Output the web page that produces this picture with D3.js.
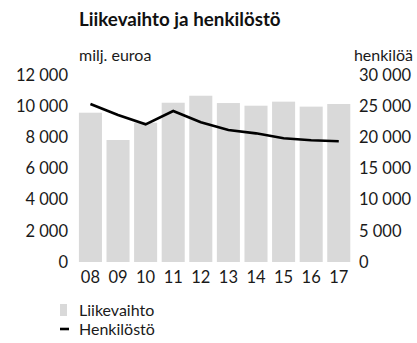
<!DOCTYPE html>
<html>
<head>
<meta charset="utf-8">
<script src="https://cdn.jsdelivr.net/npm/d3@7/dist/d3.min.js"></script>
<style>
  html, body { margin: 0; padding: 0; background: #fff; }
  svg { display: block; font-family: Lato, "Open Sans", sans-serif; }
</style>
</head>
<body>
<div id="chart"></div>
<script>
// Years (two-digit labels)
const years = ["08", "09", "10", "11", "12", "13", "14", "15", "16", "17"];
// Liikevaihto, milj. euroa
const revenue = [9580, 7830, 8940, 10220, 10670, 10200, 10030, 10290, 9970, 10140];
// Henkilöstö, henkilöä
const personnel = [25350, 23580, 22090, 24220, 22410, 21180, 20640, 19840, 19520, 19360];
// Axis ticks
const leftTicks = [0, 2000, 4000, 6000, 8000, 10000, 12000];
const rightTicks = [0, 5000, 10000, 15000, 20000, 25000, 30000];

const W = 417, H = 343;
const FONT = "Lato, 'Open Sans', sans-serif";
const svg = d3.select("#chart").append("svg").attr("width", W).attr("height", H);

const x = d3.scaleBand().domain(years).range([76.7, 352.5]).paddingInner(0.165).paddingOuter(0.08);
const yL = d3.scaleLinear().domain([0, 12000]).range([262, 75]);
const yR = d3.scaleLinear().domain([0, 30000]).range([262, 75]);

const fmt = v => d3.format(",")(v).replace(/,/g, " ");

// Title
svg.append("text").attr("x", 79).attr("y", 26)
  .attr("font-size", 18.8).attr("font-weight", "bold").attr("fill", "#111")
  .text("Liikevaihto ja henkilöstö");

// Unit labels
svg.append("text").attr("x", 79).attr("y", 61).attr("font-size", 16).attr("fill", "#1a1a1a")
  .text("milj. euroa");
svg.append("text").attr("x", 413).attr("y", 61).attr("font-size", 16).attr("fill", "#1a1a1a")
  .attr("text-anchor", "end").text("henkilöä");

// Bars
svg.append("g").selectAll("rect").data(years).join("rect")
  .attr("x", d => x(d))
  .attr("width", x.bandwidth())
  .attr("y", (d, i) => yL(revenue[i]))
  .attr("height", (d, i) => yL(0) - yL(revenue[i]))
  .attr("fill", "#d9d9d9");

// Personnel line
const line = d3.line()
  .x((d, i) => x(years[i]) + x.bandwidth() / 2)
  .y(d => yR(d));
svg.append("path").datum(personnel)
  .attr("d", line).attr("fill", "none")
  .attr("stroke", "#000").attr("stroke-width", 2.6)
  .attr("stroke-linejoin", "miter");

// Left axis
const axL = svg.append("g").attr("transform", "translate(68,0)")
  .call(d3.axisLeft(yL).tickValues(leftTicks).tickFormat(fmt).tickSize(0).tickPadding(0));
// Right axis
const axR = svg.append("g").attr("transform", "translate(359,0)")
  .call(d3.axisRight(yR).tickValues(rightTicks).tickFormat(fmt).tickSize(0).tickPadding(0));
// Bottom axis
const axB = svg.append("g").attr("transform", "translate(0,268)")
  .call(d3.axisBottom(x).tickSize(0).tickPadding(0));

[axL, axR, axB].forEach(g => {
  g.select(".domain").remove();
  g.selectAll("text").attr("font-size", 16.5).attr("fill", "#1a1a1a").attr("font-family", FONT);
});
axB.selectAll("text").attr("dy", "0.9em");

// Legend
const lg = svg.append("g");
lg.append("rect").attr("x", 60).attr("y", 304).attr("width", 7).attr("height", 12).attr("fill", "#d9d9d9");
lg.append("text").attr("x", 79).attr("y", 316).attr("font-size", 16).attr("fill", "#1a1a1a").text("Liikevaihto");
lg.append("line").attr("x1", 60).attr("x2", 69).attr("y1", 329).attr("y2", 329)
  .attr("stroke", "#000").attr("stroke-width", 2.6);
lg.append("text").attr("x", 79).attr("y", 335).attr("font-size", 16).attr("fill", "#1a1a1a").text("Henkilöstö");
</script>
</body>
</html>
